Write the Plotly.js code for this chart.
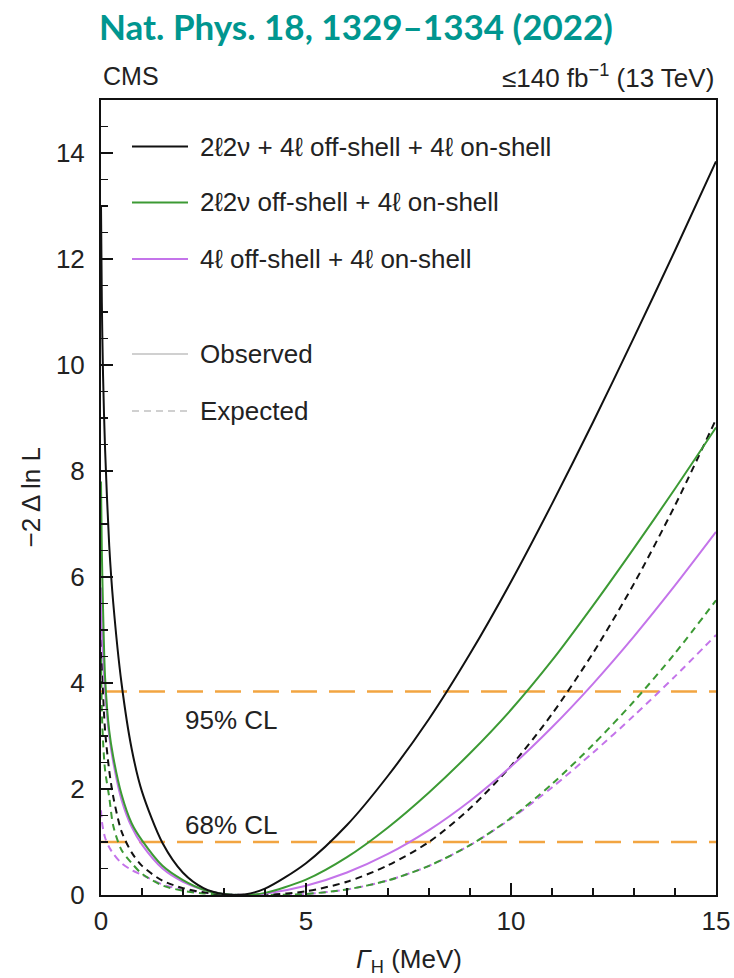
<!DOCTYPE html>
<html>
<head>
<meta charset="utf-8">
<script src="https://cdn.plot.ly/plotly-3.0.1.min.js"></script>
<style>
  html, body { margin: 0; padding: 0; background: #ffffff; }
  #chart { width: 734px; height: 978px; }
</style>
</head>
<body>
<div id="chart"></div>
<script>
// Higgs width scan: -2 Δ ln L versus Γ_H (MeV)
const gammaH = [0, 0.02, 0.05, 0.1, 0.2, 0.3, 0.5, 0.75, 1, 1.5, 2, 2.5, 3, 3.5, 4, 5, 6, 7, 8, 9, 10, 11, 12, 13, 14, 15];

// Observed
const obsCombined = [13.0, 11.2, 9.8, 8.4, 6.6, 5.5, 4.0, 2.75, 1.95, 0.98, 0.42, 0.13, 0.015, 0.01, 0.12, 0.6, 1.32, 2.25, 3.32, 4.55, 5.91, 7.38, 8.92, 10.52, 12.16, 13.84];
const obs2l2nu   = [7.8, 6.5, 5.4, 4.1, 3.1, 2.6, 1.9, 1.35, 1.03, 0.55, 0.28, 0.1, 0.02, 0, 0.04, 0.29, 0.715, 1.275, 1.935, 2.675, 3.495, 4.425, 5.46, 6.545, 7.665, 8.82];
const obs4l      = [5.8, 5.0, 4.5, 3.85, 3.0, 2.5, 1.8, 1.28, 0.95, 0.5, 0.25, 0.1, 0.02, 0, 0.025, 0.175, 0.425, 0.775, 1.225, 1.775, 2.425, 3.165, 3.985, 4.88, 5.84, 6.85];

// Expected
const expCombined = [5.5, 4.5, 3.8, 3.1, 2.35, 1.85, 1.2, 0.8, 0.55, 0.27, 0.13, 0.05, 0.015, 0.003, 0.001, 0.07, 0.25, 0.56, 1.0, 1.635, 2.435, 3.415, 4.565, 5.875, 7.35, 8.975];
const exp2l2nu   = [4.5, 3.5, 2.9, 2.35, 1.85, 1.3, 0.85, 0.6, 0.4, 0.18, 0.08, 0.03, 0.01, 0, 0, 0.02, 0.105, 0.275, 0.55, 0.94, 1.455, 2.095, 2.835, 3.655, 4.56, 5.56];
const exp4l      = [1.6, 1.4, 1.25, 1.08, 0.9, 0.78, 0.6, 0.47, 0.38, 0.2, 0.1, 0.04, 0.01, 0, 0, 0.02, 0.105, 0.275, 0.55, 0.94, 1.44, 2.03, 2.685, 3.385, 4.125, 4.905];

// Confidence-level reference lines
const clLevels = [3.84, 1.0];
const clLabels = ['95% CL', '68% CL'];
const clLabelY = [3.3, 1.32];
const xSpan = [0, 15];

const legendLabels = [
  '2ℓ2ν + 4ℓ off-shell + 4ℓ on-shell',
  '2ℓ2ν off-shell + 4ℓ on-shell',
  '4ℓ off-shell + 4ℓ on-shell'
];
const styleLabels = ['Observed', 'Expected'];

const BLACK = '#111111';
const GREEN = '#3c9a34';
const VIOLET = '#c474ea';
const ORANGE = '#f2a541';
const GREY = '#d0d0d0';
const FONT = 'Liberation Sans, Arial, sans-serif';
const TEXT = '#222222';
const FS = 26;

const traces = [];
function curve(y, color, dashed) {
  traces.push({
    x: gammaH, y: y, type: 'scatter', mode: 'lines', showlegend: false,
    line: { color: color, width: 2, dash: dashed ? '7px,5px' : 'solid', shape: 'spline', smoothing: 0.8 },
    hoverinfo: 'skip'
  });
}

clLevels.forEach(v => {
  traces.push({
    x: xSpan, y: [v, v], type: 'scatter', mode: 'lines', showlegend: false,
    line: { color: ORANGE, width: 2.5, dash: '26px,12px' }, hoverinfo: 'skip'
  });
});

curve(exp4l, VIOLET, true);
curve(exp2l2nu, GREEN, true);
curve(expCombined, BLACK, true);
curve(obs4l, VIOLET, false);
curve(obs2l2nu, GREEN, false);
curve(obsCombined, BLACK, false);

// Legend drawn in paper coordinates
const legendColors = [BLACK, GREEN, VIOLET];
const legendRows = [146.5, 202.5, 259];
const styleRows = [354, 411];
const plotTop = 100, plotBottom = 895, plotLeft = 101, plotRight = 716;
const py = p => 1 - (p - plotTop) / (plotBottom - plotTop);
const px = p => (p - plotLeft) / (plotRight - plotLeft);

const shapes = [];
const annotations = [];
legendLabels.forEach((t, i) => {
  shapes.push({ type: 'line', xref: 'paper', yref: 'paper',
    x0: px(132), x1: px(188), y0: py(legendRows[i]), y1: py(legendRows[i]),
    line: { color: legendColors[i], width: 2 } });
  annotations.push({ xref: 'paper', yref: 'paper', x: px(198), y: py(legendRows[i]),
    xanchor: 'left', yanchor: 'middle', showarrow: false, text: t,
    font: { family: FONT, size: FS, color: TEXT } });
});
styleLabels.forEach((t, i) => {
  shapes.push({ type: 'line', xref: 'paper', yref: 'paper',
    x0: px(132), x1: px(188), y0: py(styleRows[i]), y1: py(styleRows[i]),
    line: { color: GREY, width: 2, dash: i === 0 ? 'solid' : '7px,5px' } });
  annotations.push({ xref: 'paper', yref: 'paper', x: px(198), y: py(styleRows[i]),
    xanchor: 'left', yanchor: 'middle', showarrow: false, text: t,
    font: { family: FONT, size: FS, color: TEXT } });
});

clLabels.forEach((t, i) => {
  annotations.push({ xref: 'x', yref: 'y', x: 2.0, y: clLabelY[i],
    xanchor: 'left', yanchor: 'middle', showarrow: false, text: t,
    font: { family: FONT, size: FS, color: TEXT } });
});

// Header texts
annotations.push({ xref: 'paper', yref: 'paper', x: 0, y: py(76), xanchor: 'left', yanchor: 'middle',
  showarrow: false, text: 'CMS', font: { family: FONT, size: 25, color: TEXT } });
annotations.push({ xref: 'paper', yref: 'paper', x: 1, y: py(76), xanchor: 'right', yanchor: 'middle',
  showarrow: false, text: '≤140 fb<sup>−1</sup> (13 TeV)', font: { family: FONT, size: 26, color: TEXT } });

// Axis titles
annotations.push({ xref: 'paper', yref: 'paper', x: 0.5, y: py(960), xanchor: 'center', yanchor: 'middle',
  showarrow: false, text: '<i>Γ</i><sub>H</sub> (MeV)', font: { family: FONT, size: FS, color: TEXT } });
annotations.push({ xref: 'paper', yref: 'paper', x: px(30), y: 0.5, xanchor: 'center', yanchor: 'middle',
  textangle: -90, showarrow: false, text: '−2 Δ ln L', font: { family: FONT, size: FS, color: TEXT } });

const axisCommon = {
  showgrid: false, zeroline: false, showline: true, linecolor: '#111111', linewidth: 2,
  mirror: true, ticks: 'inside', ticklen: 12, tickwidth: 2, tickcolor: '#111111',
  tickfont: { family: FONT, size: FS, color: TEXT }, fixedrange: true
};

const layout = {
  width: 734, height: 978,
  margin: { l: plotLeft, r: 734 - plotRight, t: plotTop, b: 978 - plotBottom },
  paper_bgcolor: '#ffffff', plot_bgcolor: '#ffffff',
  title: {
    text: '<b>Nat. Phys. 18, 1329–1334 (2022)</b>',
    font: { family: 'Lato, sans-serif', size: 35, color: '#00968f' },
    x: 356 / 734, xanchor: 'center', y: 1 - 28 / 978, yanchor: 'middle'
  },
  xaxis: Object.assign({}, axisCommon, {
    range: [0, 15], tickmode: 'linear', tick0: 0, dtick: 5, ticklabelstandoff: 2,
    minor: { ticks: 'inside', ticklen: 7, tickwidth: 1.5, tickcolor: '#111111', dtick: 1, tick0: 0 }
  }),
  yaxis: Object.assign({}, axisCommon, {
    range: [0, 15], tickmode: 'linear', tick0: 0, dtick: 2, ticklabelstandoff: 9,
    minor: { ticks: 'inside', ticklen: 7, tickwidth: 1.5, tickcolor: '#111111', dtick: 0.5, tick0: 0 }
  }),
  shapes: shapes,
  annotations: annotations,
  showlegend: false
};

Plotly.newPlot('chart', traces, layout, { staticPlot: true, displayModeBar: false });
</script>
</body>
</html>
